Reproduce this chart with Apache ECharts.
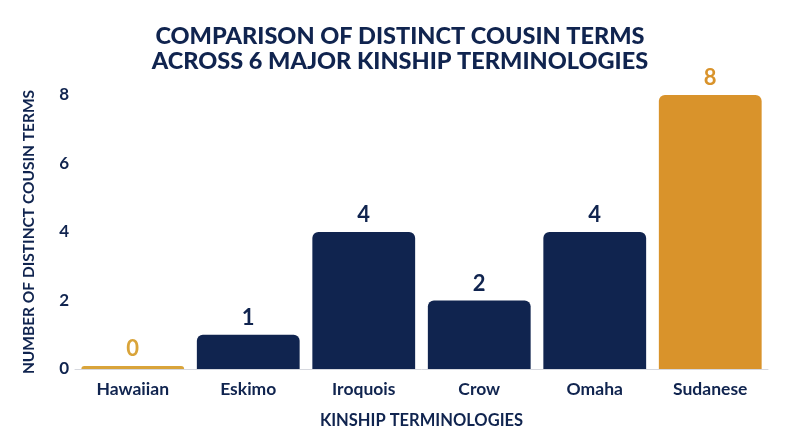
<!DOCTYPE html>
<html>
<head>
<meta charset="utf-8">
<script src="https://cdn.jsdelivr.net/npm/echarts@6/dist/echarts.min.js"></script>
<style>
html,body{margin:0;padding:0;background:#fff;}
#c{width:800px;height:447px;}
</style>
</head>
<body>
<div id="c"></div>
<script>
var categories = ['Hawaiian', 'Eskimo', 'Iroquois', 'Crow', 'Omaha', 'Sudanese'];
var cousinTerms = [0, 1, 4, 2, 4, 8];
var yTicks = [0, 2, 4, 6, 8];

var navy = '#10244F';
var highlight = { 'Hawaiian': '#D9A43A', 'Sudanese': '#D9932B' };

var chart = echarts.init(document.getElementById('c'), null, { renderer: 'canvas' });
var font = 'Lato, "Open Sans", sans-serif';

chart.setOption({
  backgroundColor: '#ffffff',
  title: {
    text: 'COMPARISON OF DISTINCT COUSIN TERMS\nACROSS 6 MAJOR KINSHIP TERMINOLOGIES',
    left: 'center',
    top: 19,
    textStyle: {
      fontFamily: font,
      fontWeight: 900,
      fontSize: 23.5,
      lineHeight: 25,
      color: navy
    }
  },
  grid: { left: 75, right: 32, top: 95, bottom: 78 },
  xAxis: {
    type: 'category',
    data: categories,
    name: 'KINSHIP TERMINOLOGIES',
    nameLocation: 'middle',
    nameGap: 43,
    nameTextStyle: { fontFamily: font, fontWeight: 'bold', fontSize: 16.5, color: navy },
    axisLine: { show: true, lineStyle: { color: '#d6d8de', width: 1 } },
    axisTick: { show: false },
    axisLabel: { fontFamily: font, fontWeight: 'bold', fontSize: 17.5, color: navy, margin: 11 }
  },
  yAxis: {
    type: 'value',
    min: yTicks[0],
    max: yTicks[yTicks.length - 1],
    interval: yTicks[1] - yTicks[0],
    name: 'NUMBER OF DISTINCT COUSIN TERMS',
    nameLocation: 'middle',
    nameGap: 38,
    nameTextStyle: { fontFamily: font, fontWeight: 'bold', fontSize: 15.5, color: navy },
    axisLine: { show: false },
    axisTick: { show: false },
    splitLine: { show: false },
    axisLabel: { fontFamily: font, fontWeight: 'bold', fontSize: 17, color: navy, margin: 6 }
  },
  series: [{
    type: 'bar',
    data: cousinTerms.map(function (v, i) {
      var c = highlight[categories[i]] || navy;
      return { value: v, itemStyle: { color: c }, label: { color: c } };
    }),
    barCategoryGap: '11%',
    barMinHeight: 3,
    itemStyle: { borderRadius: [6, 6, 0, 0] },
    label: {
      show: true,
      position: 'top',
      distance: 6,
      fontFamily: font,
      fontWeight: 'bold',
      fontSize: 22
    }
  }]
});
</script>
</body>
</html>
